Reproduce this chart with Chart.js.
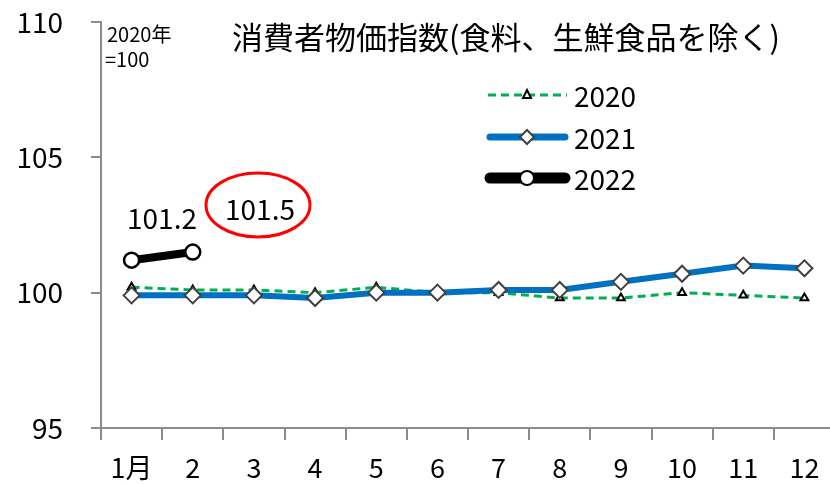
<!DOCTYPE html>
<html>
<head>
<meta charset="utf-8">
<script src="https://cdn.jsdelivr.net/npm/chart.js@4/dist/chart.umd.min.js"></script>
<style>
  html, body { margin: 0; padding: 0; background: #fff; overflow: hidden; }
  #wrap { width: 845px; height: 484px; }
</style>
</head>
<body>
<div id="wrap"><canvas id="cpi"></canvas></div>
<script>
"use strict";

const months = ["1月", "2", "3", "4", "5", "6", "7", "8", "9", "10", "11", "12"];
const y2020 = [100.2, 100.1, 100.1, 100.0, 100.2, 100.0, 100.0, 99.8, 99.8, 100.0, 99.9, 99.8];
const y2021 = [99.9, 99.9, 99.9, 99.8, 100.0, 100.0, 100.1, 100.1, 100.4, 100.7, 101.0, 100.9];
const y2022 = [101.2, 101.5];
const yTicks = [95, 100, 105, 110];

const FONT = "'Noto Sans CJK JP', 'Noto Sans', sans-serif";
const axisGray = "#8c8c8c";

// title, base note, callouts and legend drawn on top
const overlay = {
  id: "overlay",
  afterDraw(chart) {
    const ctx = chart.ctx;
    ctx.save();
    ctx.fillStyle = "#000";
    ctx.textBaseline = "middle";

    ctx.font = "31px " + FONT;
    ctx.textAlign = "center";
    ctx.fillText("消費者物価指数(食料、生鮮食品を除く)", 506, 37);

    ctx.font = "20px " + FONT;
    ctx.textAlign = "left";
    ctx.fillText("2020年", 107, 34);
    ctx.fillText("=100", 105, 59);

    ctx.font = "28px " + FONT;
    ctx.textAlign = "center";
    ctx.fillText(y2022[0].toFixed(1), 162, 218);
    ctx.fillText(y2022[1].toFixed(1), 260, 209);

    ctx.strokeStyle = "#ff0000";
    ctx.lineWidth = 3;
    ctx.beginPath();
    ctx.ellipse(258, 205, 52, 32, 0, 0, Math.PI * 2);
    ctx.stroke();

    // legend
    const items = [
      { label: "2020", color: "#00b050", width: 3, dash: [8, 5], marker: "tri", y: 95 },
      { label: "2021", color: "#0070c0", width: 7, dash: [], marker: "dia", y: 137 },
      { label: "2022", color: "#000000", width: 11, dash: [], marker: "circ", y: 178 },
    ];
    for (const it of items) {
      ctx.strokeStyle = it.color;
      ctx.lineWidth = it.width;
      ctx.lineCap = it.dash.length ? "butt" : "round";
      ctx.setLineDash(it.dash);
      ctx.beginPath();
      ctx.moveTo(it.dash.length ? 488 : 490, it.y);
      ctx.lineTo(it.dash.length ? 567 : 565, it.y);
      ctx.stroke();
      ctx.setLineDash([]);
      const mx = 527;
      ctx.fillStyle = "#fff";
      if (it.marker === "tri") {
        ctx.strokeStyle = "#000";
        ctx.lineWidth = 2;
        ctx.beginPath();
        ctx.moveTo(mx, it.y - 5);
        ctx.lineTo(mx + 4, it.y + 3);
        ctx.lineTo(mx - 4, it.y + 3);
        ctx.closePath();
        ctx.fill();
        ctx.stroke();
      } else if (it.marker === "dia") {
        ctx.strokeStyle = "#404040";
        ctx.lineWidth = 2;
        ctx.beginPath();
        ctx.moveTo(mx, it.y - 7);
        ctx.lineTo(mx + 7, it.y);
        ctx.lineTo(mx, it.y + 7);
        ctx.lineTo(mx - 7, it.y);
        ctx.closePath();
        ctx.fill();
        ctx.stroke();
      } else {
        ctx.strokeStyle = "#000";
        ctx.lineWidth = 2;
        ctx.beginPath();
        ctx.arc(mx, it.y, 7, 0, Math.PI * 2);
        ctx.fill();
        ctx.stroke();
      }
      ctx.fillStyle = "#000";
      ctx.font = "28px " + FONT;
      ctx.textAlign = "left";
      ctx.fillText(it.label, 574, it.y + 1);
    }
    ctx.restore();
  },
};

new Chart(document.getElementById("cpi"), {
  type: "line",
  data: {
    labels: months,
    datasets: [
      {
        label: "2022",
        data: y2022,
        borderColor: "#000",
        borderWidth: 8,
        pointStyle: "circle",
        pointRadius: 7.5,
        pointBorderWidth: 2.5,
        pointBorderColor: "#000",
        pointBackgroundColor: "#fff",
        order: 1,
      },
      {
        label: "2021",
        data: y2021,
        borderColor: "#0070c0",
        borderWidth: 6,
        pointStyle: "rectRot",
        pointRadius: 8,
        pointBorderWidth: 2,
        pointBorderColor: "#404040",
        pointBackgroundColor: "#fff",
        order: 2,
      },
      {
        label: "2020",
        data: y2020,
        borderColor: "#00b050",
        borderWidth: 3,
        borderDash: [8, 5],
        pointStyle: "triangle",
        pointRadius: 4.5,
        pointBorderWidth: 2,
        pointBorderColor: "#000",
        pointBackgroundColor: "#fff",
        order: 3,
      },
    ],
  },
  options: {
    responsive: true,
    maintainAspectRatio: false,
    animation: false,
    layout: { padding: { top: 22, right: 2, left: 0, bottom: 0 } },
    plugins: {
      legend: { display: false },
      tooltip: { enabled: false },
    },
    scales: {
      x: {
        offset: true,
        grid: { display: true, drawOnChartArea: false, offset: true, color: axisGray, lineWidth: 2, tickLength: 12 },
        border: { color: axisGray, width: 2 },
        ticks: { color: "#000", font: { family: FONT, size: 27 }, padding: 12, maxRotation: 0, autoSkip: false },
        afterFit(scale) {
          scale.height = 56;
          scale.paddingLeft = 0;
          scale.paddingRight = 0;
        },
      },
      y: {
        min: 95,
        max: 110,
        afterBuildTicks(scale) { scale.ticks = yTicks.map((v) => ({ value: v })); },
        grid: { display: true, drawOnChartArea: false, color: axisGray, lineWidth: 2, tickLength: 10 },
        border: { color: axisGray, width: 2 },
        ticks: { color: "#000", font: { family: FONT, size: 28 }, padding: 28 },
        afterFit(scale) {
          scale.width = 101;
          scale.paddingTop = 0;
          scale.paddingBottom = 0;
        },
      },
    },
  },
  plugins: [overlay],
});
</script>
</body>
</html>
